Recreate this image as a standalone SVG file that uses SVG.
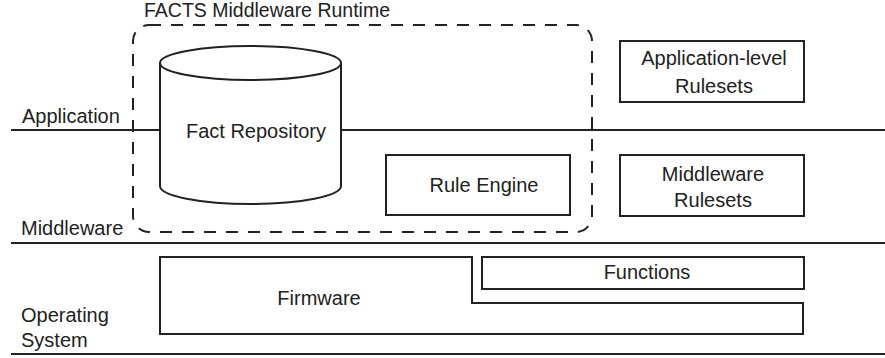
<svg xmlns="http://www.w3.org/2000/svg" width="885" height="358" viewBox="0 0 885 358">
<style>
text{font-family:"Liberation Sans",Arial,sans-serif;font-size:20px;fill:#222}
.m{text-anchor:middle}
.s{fill:none;stroke:#222;stroke-width:2}
.w{fill:#fff;stroke:#222;stroke-width:2}
.d{fill:none;stroke:#222;stroke-width:2;stroke-dasharray:12 10}
</style>
<rect width="885" height="358" fill="#fff"/>
<g id="layers">
<line class="s" x1="11" y1="130" x2="885" y2="130"/>
<line class="s" x1="11" y1="243" x2="885" y2="243"/>
<line class="s" x1="11" y1="354" x2="885" y2="354"/>
<text x="22" y="123">Application</text>
<text x="21" y="235">Middleware</text>
<text x="21" y="322">Operating</text>
<text x="21" y="347">System</text>
</g>
<g id="runtime">
<rect class="d" x="133" y="25" width="459" height="207" rx="16"/>
<text x="144" y="17" style="font-size:19.5px">FACTS Middleware Runtime</text>
</g>
<g id="fact-repository">
<path class="w" d="M160,63 V186 A90.5,18 0 0 0 341,186 V63"/>
<ellipse class="w" cx="250.5" cy="63" rx="90.5" ry="17"/>
<text class="m" x="256" y="138">Fact Repository</text>
</g>
<g id="rule-engine">
<rect class="w" x="386" y="155" width="184" height="60"/>
<text class="m" x="484" y="192">Rule Engine</text>
</g>
<g id="app-rulesets">
<rect class="w" x="620" y="41" width="184" height="61"/>
<text class="m" x="714" y="65">Application-level</text>
<text class="m" x="714" y="93">Rulesets</text>
</g>
<g id="mw-rulesets">
<rect class="w" x="620" y="155" width="184" height="61"/>
<text class="m" x="713" y="181">Middleware</text>
<text class="m" x="713" y="207">Rulesets</text>
</g>
<g id="firmware">
<path class="w" d="M160,257 H472 V303 H803 V334 H160 Z"/>
<text class="m" x="319" y="305">Firmware</text>
</g>
<g id="functions">
<rect class="w" x="482" y="257" width="322" height="32"/>
<text class="m" x="647" y="279">Functions</text>
</g>
<g id="connectors"/>
</svg>
